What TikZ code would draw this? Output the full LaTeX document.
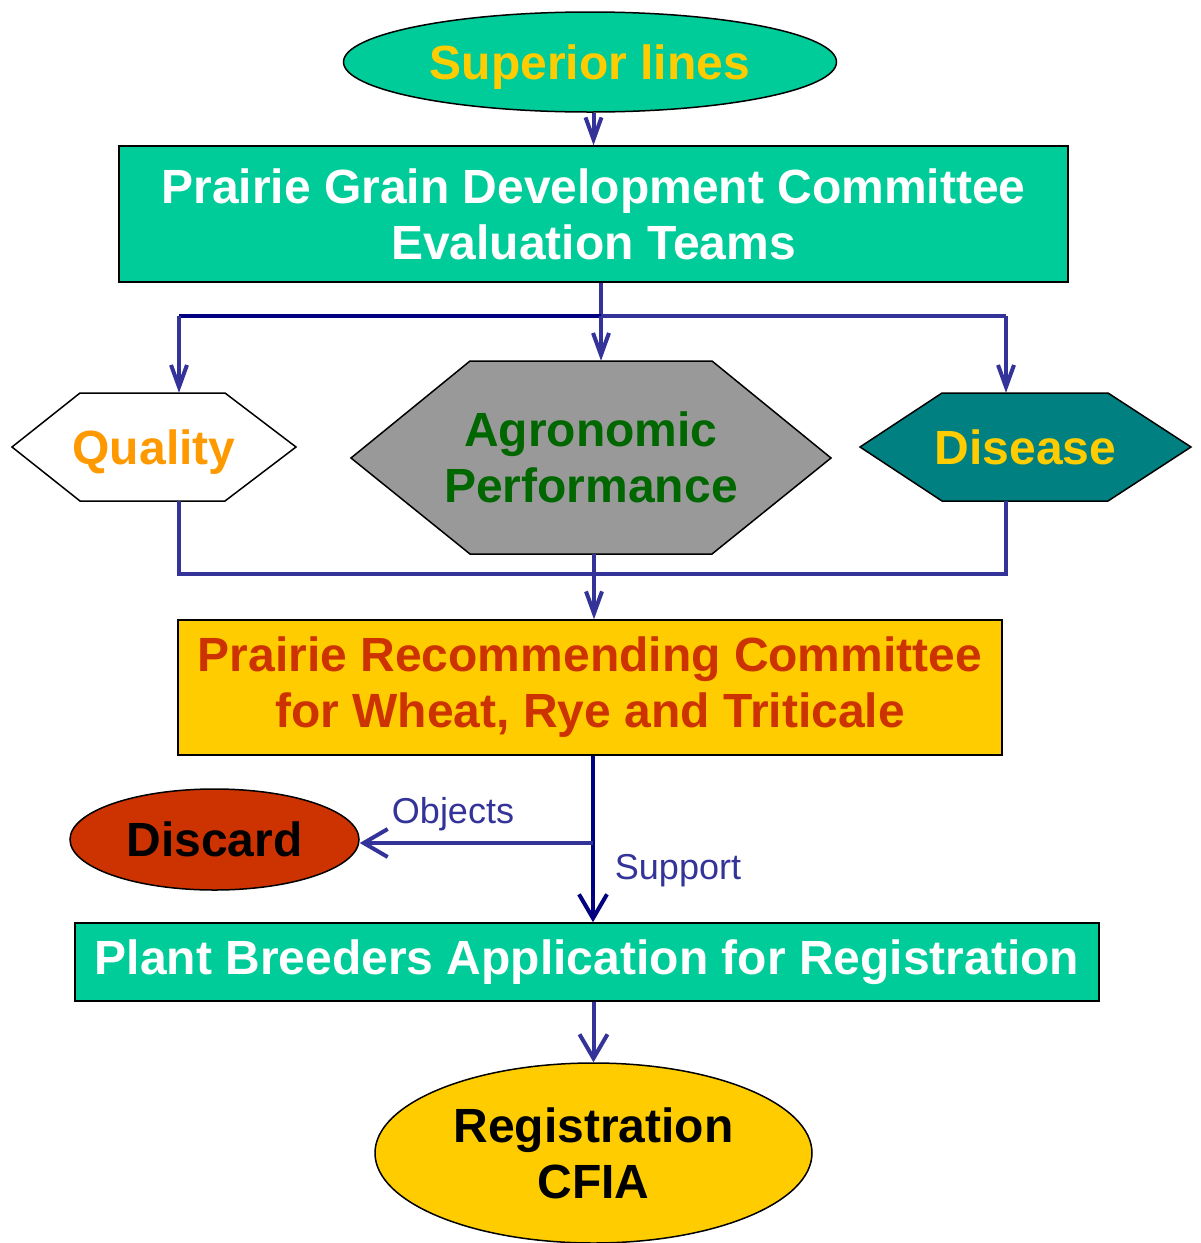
\documentclass[tikz,border=0pt]{standalone}
\usepackage{fontspec}
\setmainfont{Liberation Sans}
\usepackage{tikz}
\usetikzlibrary{arrows.meta, shapes.geometric}
\usepackage{color}

\begin{document}
\begin{tikzpicture}
		[x=1pt,y=-1pt,
		%Styles
		heading/.style={font=\bfseries\fontsize{48}{56}\selectfont,align=center},
		box/.style={draw,line width=1.5pt,inner sep=0pt,heading},
		oval/.style={ellipse,draw,line width=1.5pt,inner sep=0pt,heading},
		hex/.style={inner sep=0pt,heading},
		hex line/.style={draw,line width=1.5pt,line join=miter},
		rail/.style={line width=4pt,draw=arrowblue},
		flow/.style={rail,-{Straight Barb[length=22pt,width=16pt]}},
		big flow/.style={rail,-{Straight Barb[length=24pt,width=28pt]}},
		side text/.style={font=\fontsize{36}{42}\selectfont,text=arrowblue}
		]
		
		%Colors
		\definecolor{boxgreen}{HTML}{00CC99}
		\definecolor{gold}{HTML}{FFCC00}
		\definecolor{qualorange}{HTML}{FF9900}
		\definecolor{hexgray}{HTML}{999999}
		\definecolor{agrogreen}{HTML}{006600}
		\definecolor{disteal}{HTML}{008080}
		\definecolor{rust}{HTML}{CC3300}
		\definecolor{arrowblue}{HTML}{333399}
		\definecolor{navy}{HTML}{000080}
		
		\useasboundingbox (0,0) rectangle (1201,1243);
		
		%The graphic
		\node[oval,fill=boxgreen,text=gold,minimum width=493pt,minimum height=100pt,text depth=0pt] (sup) at (590,62) {Superior lines};
		\node[box,fill=boxgreen,text=white,minimum width=949pt,minimum height=136pt] (pgdc) at (593.5,214) {Prairie Grain Development Committee\\Evaluation Teams};
		
		%hexagons
		\draw[hex line,fill=white] (12,447) -- (80,393) -- (225,393) -- (296,447) -- (225,501) -- (80,501) -- cycle;
		\draw[hex line,fill=hexgray] (351,458) -- (470,361) -- (712,361) -- (831,458) -- (712,554) -- (470,554) -- cycle;
		\draw[hex line,fill=disteal] (860,447) -- (942,393) -- (1108,393) -- (1191,447) -- (1108,501) -- (942,501) -- cycle;
		\node[hex,text=qualorange,minimum width=284pt,minimum height=108pt,text depth=0pt] (qual) at (154,447) {Quality};
		\node[hex,text=agrogreen,minimum width=480pt,minimum height=193pt] (agro) at (591,457.5) {Agronomic\\Performance};
		\node[hex,text=gold,minimum width=331pt,minimum height=108pt] (dis) at (1025.5,447) {Disease};
		
		\node[box,fill=gold,text=rust,minimum width=824pt,minimum height=135pt] (prc) at (590,687.5) {Prairie Recommending Committee\\for Wheat, Rye and Triticale};
		\node[oval,fill=rust,text=black,minimum width=289pt,minimum height=101pt] (disc) at (214.5,839.5) {Discard};
		\node[box,fill=boxgreen,text=white,minimum width=1024pt,minimum height=78pt] (pbar) at (587,962) {Plant Breeders Application for Registration};
		\node[oval,fill=gold,text=black,minimum width=437pt,minimum height=180pt] (reg) at (593.5,1153) {Registration\\CFIA};
		
		\node[side text] (obj) at (453,814) {Objects};
		\node[side text] (supp) at (678,871) {Support};
		
		%Branch points
		\coordinate (split) at (601,316);
		\coordinate (ql) at (179,316);
		\coordinate (dr) at (1006,316);
		\coordinate (jl) at (179,574);
		\coordinate (jr) at (1006,574);
		\coordinate (join) at (594,574);
		\coordinate (fork) at (593,843);
		
		\draw[flow] (pgdc.north |- sup.south) -- (pgdc.north);
		\draw[rail] (split |- pgdc.south) -- (split);
		\draw[rail,draw=navy] (split) -- (ql);
		\draw[rail] (split) -- (dr);
		\draw[flow] (ql) -- (ql |- qual.north);
		\draw[flow] (split) -- (split |- agro.north);
		\draw[flow] (dr) -- (dr |- dis.north);
		
		\draw[rail] (ql |- qual.south) -- (jl) -- (jr) -- (dr |- dis.south);
		\draw[rail] (join |- agro.south) -- (join);
		\draw[flow] (join) -- (join |- prc.north);
		
		\draw[big flow,draw=navy] (fork |- prc.south) -- (fork |- pbar.north);
		\draw[big flow] (fork) -- (fork -| disc.east);
		\draw[big flow] (reg.north |- pbar.south) -- (reg.north);
	\end{tikzpicture}
\end{document}
